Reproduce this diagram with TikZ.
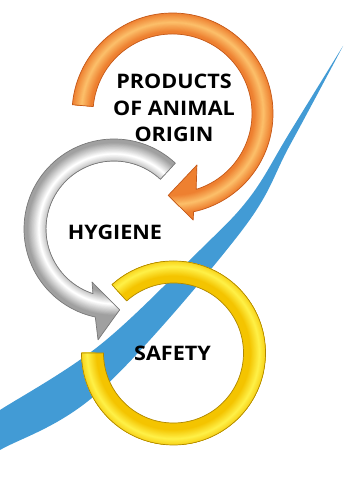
\documentclass[tikz,border=0pt]{standalone}
\usepackage{fontspec}
\setmainfont{Open Sans}
\newfontfamily\lblfont{Open Sans}[FakeStretch=1.08]
\definecolor{swoosh}{RGB}{66,155,213}
\definecolor{ormid}{RGB}{238,128,48}
\definecolor{orlight}{RGB}{252,190,105}
\definecolor{orline}{RGB}{196,88,24}
\definecolor{grmid}{RGB}{160,160,160}
\definecolor{grlight}{RGB}{255,255,255}
\definecolor{grline}{RGB}{120,120,120}
\definecolor{yemid}{RGB}{244,196,0}
\definecolor{yelight}{RGB}{255,240,70}
\definecolor{yeline}{RGB}{175,135,0}
\tikzset{
  lbl/.style={font=\lblfont\bfseries\fontsize{20}{26.5}\selectfont, text=black, align=center, inner sep=0pt},
  outl/.style={line width=0.7pt, line join=round},
}
\newcommand\tubeshade[4]{%
  \foreach \i in {0,...,19}{%
    \pgfmathsetmacro\ww{2*#2*(1-\i/20)}%
    \pgfmathtruncatemacro\pp{\i*5+5}%
    \draw[line width=\ww pt, color=#4!\pp!#3] (0,0) circle[radius=#1];
  }}
\newcommand\orpath{(175:100.5) arc[start angle=175, end angle=-77.9, radius=100.5]
  -- (-79:108.5) -- (-93:82) -- (-64.6:57) -- (-72.7:79.5)
  arc[start angle=-72.7, end angle=175, radius=79.5] -- cycle}
\newcommand\grpath{(47:90) arc[start angle=47, end angle=258, radius=90]
  -- (261.8:112) -- (274:81) -- (247.5:57.4) -- (252:68)
  arc[start angle=252, end angle=47, radius=68] -- cycle}
\newcommand\yepath{(132:92) arc[start angle=132, end angle=-180, radius=92]
  -- (180:70) arc[start angle=-180, end angle=132, radius=70] -- cycle}
\begin{document}
\begin{tikzpicture}[x=1pt,y=1pt]
\useasboundingbox (0,0) rectangle (344,495);
\begin{scope}
  \clip (0,0) rectangle (344,495);
  \fill[swoosh] plot[smooth, tension=0.6] coordinates {(-20,73) (0,85) (100,150) (200,245) (250,298) (290,363) (343,449)}
     -- plot[smooth, tension=0.6] coordinates {(343,449) (290,350) (240,262) (100,104) (0,45) (-20,34)} -- cycle;
\end{scope}
% gray arrow
\begin{scope}[shift={(114,266)}]
  \fill[grmid] \grpath;
  \begin{scope}
    \clip \grpath;
    \tubeshade{75}{11}{grmid}{grlight}
  \end{scope}
  \draw[outl, grline] \grpath;
\end{scope}
% orange arrow
\begin{scope}[shift={(172.5,381.5)}]
  \fill[ormid] \orpath;
  \begin{scope}
    \clip \orpath;
    \tubeshade{91}{9}{ormid}{orlight}
  \end{scope}
  \draw[outl, orline] \orpath;
\end{scope}
% yellow ring
\begin{scope}[shift={(173.5,142)}]
  \fill[yemid] \yepath;
  \begin{scope}
    \clip \yepath;
    \tubeshade{86}{9}{yemid}{yelight}
  \end{scope}
  \draw[outl, yeline] \yepath;
\end{scope}
\node[lbl] (products) at (174,387) {PRODUCTS\\OF ANIMAL\\ORIGIN};
\node[lbl] (hygiene) at (115,263) {HYGIENE};
\node[lbl] (safety) at (172.5,142) {SAFETY};
\end{tikzpicture}
\end{document}
